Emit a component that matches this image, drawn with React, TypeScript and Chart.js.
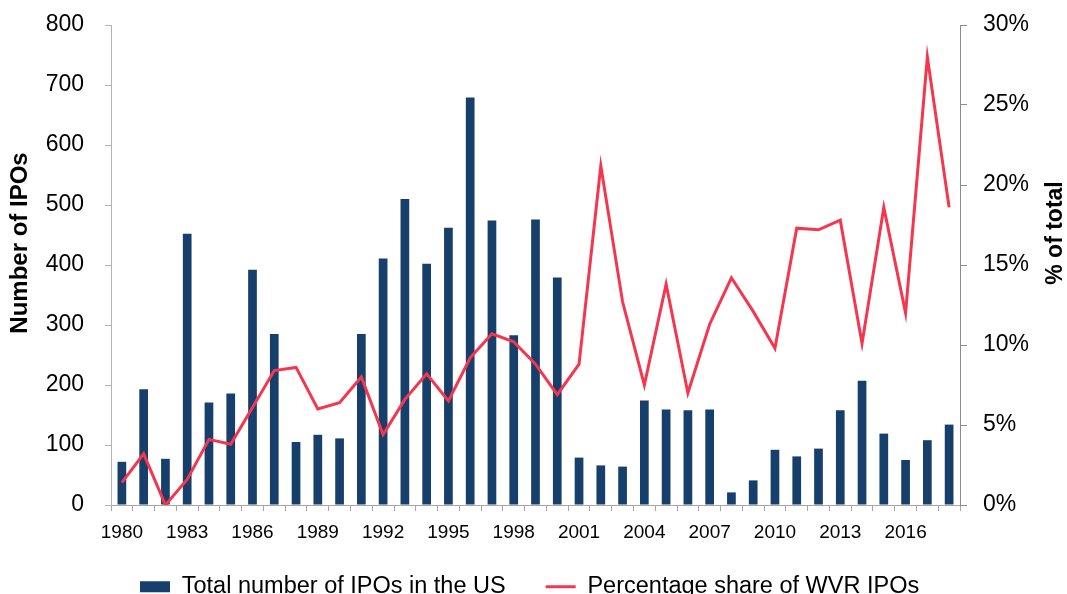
import React, { useEffect, useRef } from 'react';
import { Chart, registerables } from 'chart.js';

Chart.register(...registerables);

const years = [
  '1980', '1981', '1982', '1983', '1984', '1985', '1986', '1987', '1988', '1989',
  '1990', '1991', '1992', '1993', '1994', '1995', '1996', '1997', '1998', '1999',
  '2000', '2001', '2002', '2003', '2004', '2005', '2006', '2007', '2008', '2009',
  '2010', '2011', '2012', '2013', '2014', '2015', '2016', '2017', '2018',
];

const ipoCounts = [
  72, 193, 77, 452, 171, 186, 392, 285, 105, 117,
  111, 285, 411, 510, 402, 462, 679, 474, 283, 476,
  379, 79, 66, 64, 174, 159, 158, 159, 21, 41,
  92, 81, 94, 158, 207, 119, 75, 108, 134,
];

const wvrShare = [
  1.4, 3.2, 0, 1.6, 4.1, 3.8, 6.1, 8.4, 8.6, 6.0,
  6.4, 8.0, 4.4, 6.6, 8.2, 6.5, 9.2, 10.7, 10.2, 8.8,
  6.9, 8.8, 21.2, 12.7, 7.5, 13.8, 7.0, 11.3, 14.2, 12.1,
  9.8, 17.3, 17.2, 17.8, 10.1, 18.6, 12.0, 28.0, 18.6,
];

const seriesNames = ['Total number of IPOs in the US', 'Percentage share of WVR IPOs'];
const leftTitle = 'Number of IPOs';
const rightTitle = '% of total';

const FONT = '"Liberation Sans", Arial, sans-serif';
const NAVY = '#173f6b';
const RED = '#f4374f';

const titlesPlugin = {
  id: 'customTitles',
  afterLayout(chart: any) {
    const lg = chart.legend;
    if (lg) {
      lg.left = 100;
      lg.right = 1400;
      lg.top = 535;
      lg.bottom = 660;
    }
  },
  afterDraw(chart: any) {
    const ctx = chart.ctx;
    ctx.save();
    ctx.font = `bold 24px ${FONT}`;
    ctx.fillStyle = '#000';
    ctx.textAlign = 'center';
    ctx.textBaseline = 'middle';
    ctx.translate(20, 243);
    ctx.rotate(-Math.PI / 2);
    ctx.fillText(leftTitle, 0, 0);
    ctx.restore();
    ctx.save();
    ctx.font = `bold 23px ${FONT}`;
    ctx.fillStyle = '#000';
    ctx.textAlign = 'center';
    ctx.textBaseline = 'middle';
    ctx.translate(1056, 233);
    ctx.rotate(-Math.PI / 2);
    ctx.fillText(rightTitle, 0, 0);
    ctx.restore();
  },
};

export default function App() {
  const ref = useRef<HTMLCanvasElement | null>(null);

  useEffect(() => {
    if (!ref.current) return;
    Chart.defaults.font.family = FONT;
    const chart = new Chart(ref.current, {
      type: 'bar',
      data: {
        labels: years,
        datasets: [
          {
            type: 'bar',
            label: seriesNames[0],
            data: ipoCounts,
            backgroundColor: NAVY,
            borderWidth: 0,
            yAxisID: 'y',
            barPercentage: 0.4,
            categoryPercentage: 1,
            pointStyle: 'rect',
            order: 1,
          } as any,
          {
            type: 'line',
            label: seriesNames[1],
            data: wvrShare,
            borderColor: RED,
            backgroundColor: RED,
            borderWidth: 3,
            pointRadius: 0,
            pointHoverRadius: 0,
            tension: 0,
            yAxisID: 'y1',
            pointStyle: 'line',
            order: 0,
          } as any,
        ],
      },
      options: {
        responsive: false,
        animation: false,
        devicePixelRatio: 1,
        layout: { padding: { top: 25, left: 0, right: 0, bottom: 0 } },
        plugins: {
          tooltip: { enabled: false },
          legend: {
            position: 'bottom',
            align: 'start',
            maxHeight: 49,
            labels: {
              usePointStyle: true,
              pointStyleWidth: 30,
              boxHeight: 11,
              padding: 40,
              color: '#000',
              font: { family: FONT, size: 23.5 },
              sort: (a: any, b: any) => a.datasetIndex - b.datasetIndex,
            },
          } as any,
        },
        scales: {
          x: {
            type: 'category',
            offset: true,
            grid: {
              display: true,
              drawOnChartArea: false,
              drawTicks: true,
              tickLength: 6,
              offset: true,
              color: '#a6a6a6',
            },
            border: { display: true, color: '#a6a6a6', width: 1 },
            ticks: {
              autoSkip: false,
              maxRotation: 0,
              minRotation: 0,
              padding: 10,
              color: '#000',
              font: { family: FONT, size: 19 },
              callback: (_v: any, i: number) => (i % 3 === 0 ? years[i] : ''),
            },
            afterFit: (s: any) => {
              s.height = 40;
            },
          },
          y: {
            position: 'left',
            min: 0,
            max: 800,
            grid: { drawOnChartArea: false, tickLength: 6, color: '#b3b3b3' },
            border: { display: true, color: '#b3b3b3', width: 1 },
            ticks: {
              stepSize: 100,
              padding: 21,
              color: '#000',
              font: { family: FONT, size: 23 },
            },
            afterFit: (s: any) => {
              s.width = 111;
              s.paddingTop = 12;
              s.paddingBottom = 12;
            },
          },
          y1: {
            position: 'right',
            min: 0,
            max: 30,
            grid: { drawOnChartArea: false, tickLength: 7, color: '#8c8c8c' },
            border: { display: true, color: '#8c8c8c', width: 1 },
            ticks: {
              stepSize: 5,
              padding: 16,
              color: '#000',
              font: { family: FONT, size: 23 },
              callback: (v: any) => `${v}%`,
            },
            afterFit: (s: any) => {
              s.width = 107;
              s.paddingTop = 12;
              s.paddingBottom = 12;
            },
          },
        },
      } as any,
      plugins: [titlesPlugin],
    });
    return () => chart.destroy();
  }, []);

  return (
    <div style={{ position: 'fixed', left: 0, top: 0, width: 1067, height: 594, background: '#fff' }}>
      <canvas ref={ref} width={1067} height={594} style={{ display: 'block' }} />
    </div>
  );
}
